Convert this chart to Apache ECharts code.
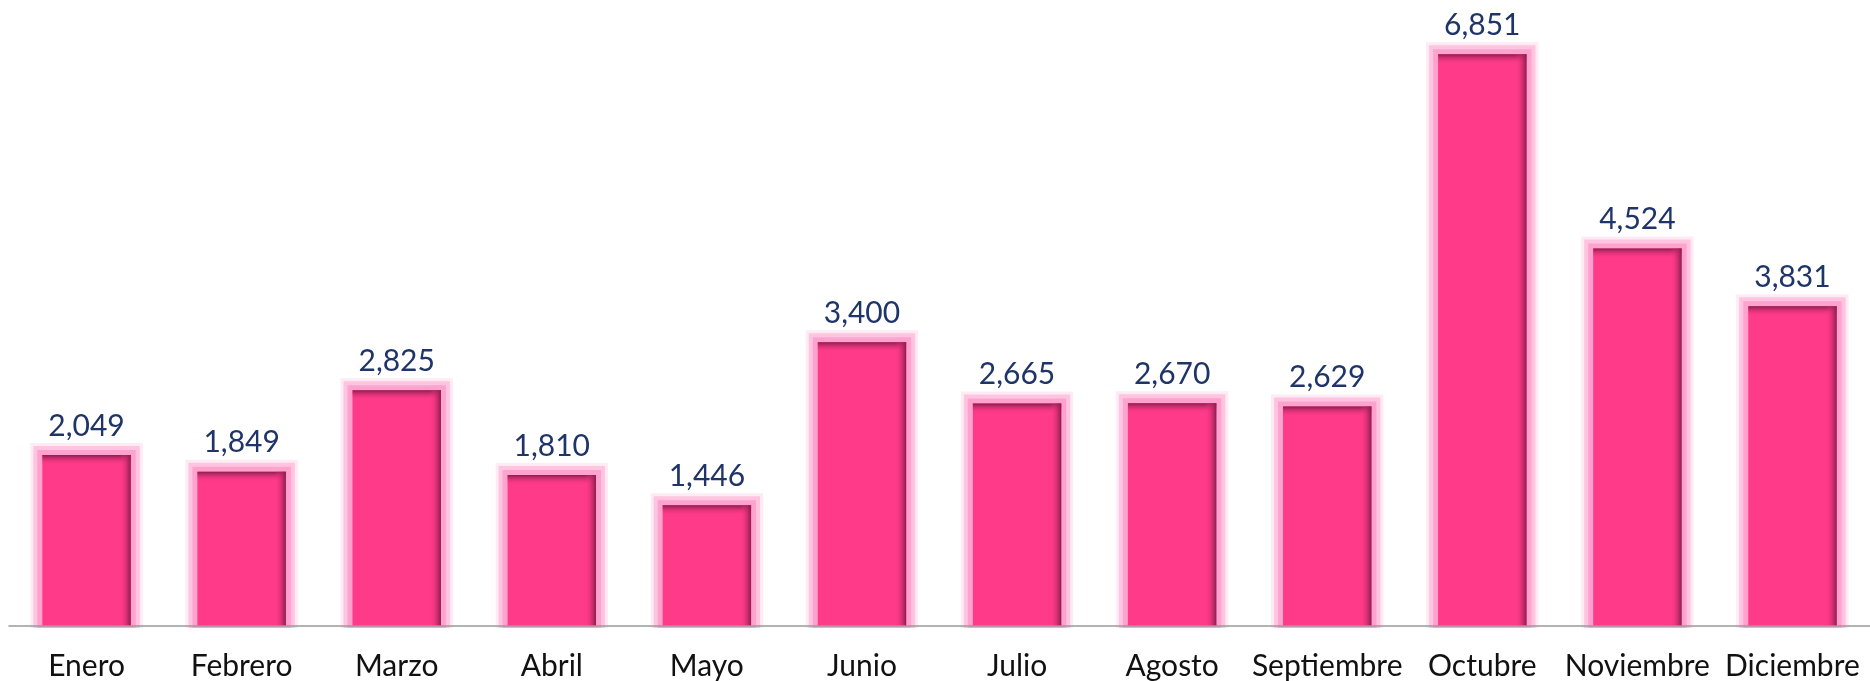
<!DOCTYPE html>
<html>
<head>
<meta charset="utf-8">
<script src="https://cdn.jsdelivr.net/npm/echarts@6/dist/echarts.min.js"></script>
<style>
  html, body { margin: 0; padding: 0; background: #fff; }
  #chart { width: 1870px; height: 681px; }
</style>
</head>
<body>
<div id="chart"></div>
<script>
const meses = ["Enero", "Febrero", "Marzo", "Abril", "Mayo", "Junio", "Julio", "Agosto", "Septiembre", "Octubre", "Noviembre", "Diciembre"];
const valores = [2049, 1849, 2825, 1810, 1446, 3400, 2665, 2670, 2629, 6851, 4524, 3831];

const rosa = "#FF3A88";
const oscuro = "#8A1D4C";
const fuente = "Lato";

const chart = echarts.init(document.getElementById("chart"));

// barra con brillo rosa y bordes sombreados (arriba y derecha)
const renderBar = (params, api) => {
  const idx = api.value(0);
  const val = api.value(1);
  const top = api.coord([idx, val]);
  const base = api.coord([idx, 0]);
  const w = api.size([1, 0])[0] * 0.57;
  const x = top[0] - w / 2;
  const y = top[1];
  const h = base[1] - top[1];

  const glow = (g, color) => ({
    type: "rect",
    shape: { x: x - g, y: y - g, width: w + 2 * g, height: h + g + 2 },
    style: { fill: color },
  });

  return {
    type: "group",
    children: [
      glow(12, "#FFEBF4"),
      glow(9, "#FFC4DF"),
      glow(5, "#FFA2CE"),
      { type: "rect", shape: { x, y, width: w, height: h }, style: { fill: rosa } },
      {
        type: "rect",
        shape: { x, y, width: w, height: 10 },
        style: {
          fill: new echarts.graphic.LinearGradient(0, 0, 0, 1, [
            { offset: 0, color: oscuro },
            { offset: 1, color: "rgba(255,58,136,0)" },
          ]),
        },
      },
      {
        type: "rect",
        shape: { x: x + w - 11, y, width: 11, height: h },
        style: {
          fill: new echarts.graphic.LinearGradient(0, 0, 1, 0, [
            { offset: 0, color: "rgba(255,58,136,0)" },
            { offset: 1, color: oscuro },
          ]),
        },
      },
      {
        type: "text",
        style: {
          text: val.toLocaleString("en-US"),
          x: top[0],
          y: y - 14,
          align: "center",
          verticalAlign: "bottom",
          fill: "#1F3468",
          font: '30px "' + fuente + '"',
        },
      },
    ],
  };
};

const option = {
  animation: false,
  grid: { left: 9, width: 1866, top: 0, bottom: 55 },
  xAxis: {
    type: "category",
    data: meses,
    z: 5,
    axisTick: { show: false },
    axisLine: { lineStyle: { color: "#9A9A9A", width: 1.5 } },
    axisLabel: {
      margin: 25,
      color: "#111",
      fontSize: 30,
      fontFamily: fuente,
      interval: 0,
    },
  },
  yAxis: {
    type: "value",
    min: 0,
    max: 7500,
    show: false,
    splitLine: { show: false },
  },
  series: [
    {
      type: "custom",
      renderItem: renderBar,
      encode: { x: 0, y: 1 },
      data: valores.map((v, i) => [i, v]),
    },
  ],
};

chart.setOption(option);
window.addEventListener("resize", () => chart.resize());
</script>
</body>
</html>
